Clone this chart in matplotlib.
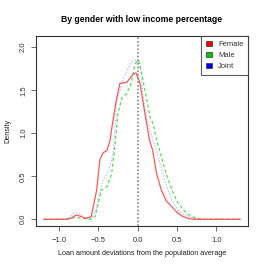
import numpy as np
import matplotlib
matplotlib.use('Agg')
import matplotlib.pyplot as plt
from matplotlib.patches import Patch

plt.rcParams['font.family'] = ['Liberation Sans', 'DejaVu Sans']

# Density curves
female_x = [-1.19, -0.92, -0.85, -0.78, -0.71, -0.66, -0.59, -0.52, -0.48, -0.44, -0.39, -0.35,
            -0.33, -0.27, -0.225, -0.14, -0.055, -0.02, 0.03, 0.09, 0.15, 0.19, 0.24, 0.30,
            0.36, 0.43, 0.50, 0.56, 0.64, 0.72, 1.30]
female_y = [0, 0, 0.01, 0.05, 0.03, 0.01, 0.03, 0.34, 0.69, 0.77, 0.80, 0.92,
            1.05, 1.39, 1.58, 1.59, 1.69, 1.70, 1.58, 1.24, 0.92, 0.80, 0.53, 0.34,
            0.22, 0.15, 0.08, 0.04, 0.01, 0, 0]

male_x = [-1.19, -0.90, -0.80, -0.70, -0.60, -0.54, -0.46, -0.39, -0.33, -0.29, -0.25, -0.20,
          -0.14, -0.09, -0.03, 0.01, 0.05, 0.115, 0.156, 0.20, 0.24, 0.28, 0.36, 0.44,
          0.51, 0.58, 0.64, 0.72, 0.80, 1.30]
male_y = [0, 0, 0.02, 0.01, 0.0, 0.03, 0.34, 0.38, 0.53, 0.84, 1.23, 1.41,
          1.46, 1.56, 1.81, 1.85, 1.70, 1.39, 1.19, 1.10, 0.92, 0.80, 0.53, 0.33,
          0.19, 0.11, 0.06, 0.02, 0, 0]

joint_x = [-1.19, -0.92, -0.85, -0.80, -0.73, -0.66, -0.60, -0.54, -0.44, -0.37, -0.31, -0.27,
           -0.18, -0.08, -0.01, 0.03, 0.07, 0.12, 0.195, 0.24, 0.34, 0.42, 0.51, 0.58,
           0.64, 0.72, 1.30]
joint_y = [0, 0, 0.03, 0.08, 0.06, 0.01, 0.01, 0.07, 0.46, 0.55, 0.77, 1.35,
           1.64, 1.83, 1.85, 1.81, 1.43, 1.15, 0.92, 0.80, 0.46, 0.24, 0.11, 0.06,
           0.04, 0.01, 0]

labels = ['Female', 'Male', 'Joint']
legend_colors = ['#ff0000', '#00cc00', '#0000ff']

fig = plt.figure(figsize=(2.66, 2.73), dpi=100)
ax = fig.add_axes([36 / 266, 47 / 273, 212 / 266, 190 / 273])

ax.plot(joint_x, joint_y, color='#b4b4ff', lw=0.9, ls=(0, (1, 1.5)))
ax.plot(male_x, male_y, color='#55dd55', lw=0.9, ls=(0, (2.5, 2)))
ax.plot(female_x, female_y, color='#ff5555', lw=0.9)
ax.axvline(0, color='#888888', lw=1.2, ls=(0, (1, 1.2)))

ax.set_xlim(-1.29, 1.40)
ax.set_ylim(-0.078, 2.13)
ax.set_xticks([-1.0, -0.5, 0.0, 0.5, 1.0])
ax.set_yticks([0.0, 0.5, 1.0, 1.5, 2.0])
ax.set_xticklabels(['\u22121.0', '\u22120.5', '0.0', '0.5', '1.0'])
ax.set_yticklabels(['0.0', '0.5', '1.0', '1.5', '2.0'], rotation=90, va='center')
ax.tick_params(labelsize=5.5, length=3.5, width=0.6, color='#555555',
               labelcolor='#333333', pad=3)
ax.tick_params(axis='x', pad=4.5)
for s in ax.spines.values():
    s.set_linewidth(0.8)
    s.set_color('#333333')

ax.set_title('By gender with low income percentage', fontsize=6.2,
             fontweight='bold', pad=10)
ax.set_xlabel('Loan amount deviations from the population average',
              fontsize=5.2, labelpad=4, color='#222222')
ax.set_ylabel('Density', fontsize=5.2, labelpad=6, color='#222222')

handles = [Patch(facecolor=c, edgecolor='#333333', lw=0.5) for c in legend_colors]
leg = ax.legend(handles, labels, loc='upper right', fontsize=5.5, frameon=True,
                fancybox=False, borderaxespad=0, handlelength=0.8, handleheight=0.8,
                handletextpad=0.8, labelspacing=0.45, borderpad=0.6)
leg.get_frame().set_edgecolor('#333333')
leg.get_frame().set_linewidth(0.8)
for t in leg.get_texts():
    t.set_color('#333333')

fig.savefig('out.png', dpi=100)
